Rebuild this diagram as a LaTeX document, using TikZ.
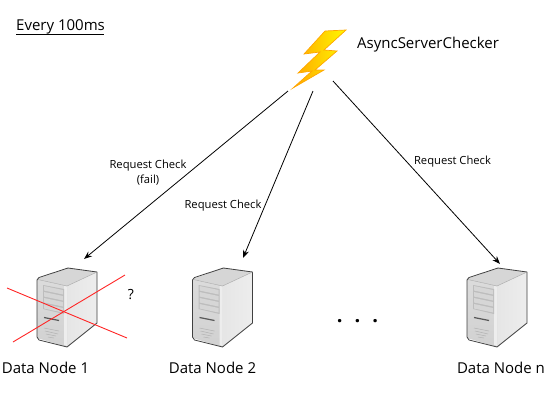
\documentclass[tikz,border=0pt]{standalone}
\usepackage{fontspec}
\usetikzlibrary{arrows.meta}
\setmainfont{Open Sans}
\tikzset{
  x=1pt,y=-1pt,
  conn/.style={draw=black,line width=0.8pt,-{Stealth[length=8pt,width=6pt]}},
  lab/.style={font=\fontsize{11.2}{15}\selectfont,align=center,inner sep=0pt,text=black},
  big/.style={font=\fontsize{15}{17}\selectfont,inner sep=0pt,text=black},
  cross/.style={draw=red!85!white,line width=0.9pt},
  pics/server/.style={code={
    % side
    \path[left color=white!90!black,right color=white!93!black]
      (30,19) -- (60,5) -- (60,56) -- (30,80) -- cycle;
    % top
    \path[fill=white!84!black] (0,12) -- (31,1) -- (60,5) -- (30,19) -- cycle;
    % front
    \path[top color=white!86!black,bottom color=white!82!black] (0,12) -- (30,19) -- (30,80) -- (0,71) -- cycle;
    \path[fill=white!93!black] (27,19) -- (30,19.5) -- (30,79) -- (27,78) -- cycle;
    % panel
    \path[fill=white!74!black] (6,18) -- (27,22) -- (27,47) -- (6,42) -- cycle;
    \foreach \d in {0,6,12,18}
      \path[fill=white!84!black] (7,{19+\d}) -- (26,{23+\d}) -- (26,{27.5+\d}) -- (7,{23.5+\d}) -- cycle;
    \draw[line width=1.2pt,black!65] (7,50.5) -- (22,53.5);
    \draw[line width=0.5pt,black!30] (7,61) -- (22,64) (8,64) -- (21,67) (9,67) -- (19,69) (11,70) -- (17,71);
    \draw[line width=0.8pt,black!75,line join=round]
      (30,80) -- (2,73) -- (0,70) -- (0,13) -- (2,10.5) -- (31,1) -- (60,5) -- (60,56) -- (30,80);
    \draw[line width=0.4pt,white!65!black] (1,12.5) -- (30,19) -- (60,5);
  }}
}
\begin{document}
\begin{tikzpicture}
\useasboundingbox (0,0) rectangle (550,400);
% bolt
\path[left color=orange!70!yellow,right color=yellow!95!orange,draw=orange!70!yellow,line width=0.7pt,line join=miter]
  (346,30) -- (325,31) -- (304,54) -- (320,52) -- (298,73) -- (312,71) -- (293,88)
  -- (324,70) -- (315,70) -- (337,51) -- (324,50) -- cycle;
\node[anchor=west,big] (asc) at (357,44.5) {AsyncServerChecker};
\node[anchor=west,big] (every) at (16,26.5) {Every 100ms};
\draw[line width=0.8pt,black] (16,34) -- (104,34);
% anchors
\coordinate (b1) at (288,91);
\coordinate (b2) at (313,91);
\coordinate (b3) at (333,81);
\coordinate (t1) at (84,259);
\coordinate (t2) at (243,258);
\coordinate (t3) at (500,264);
% servers
\pic at (37,267) {server};
\pic at (192.5,267) {server};
\pic at (467,267) {server};
% connectors
\draw[conn] (b1) -- (t1);
\draw[conn] (b2) -- (t2);
\draw[conn] (b3) -- (t3);
% cross
\coordinate (c1) at (7,288);
\coordinate (c2) at (127,338);
\coordinate (c3) at (13,342);
\coordinate (c4) at (125,275);
\draw[cross] (c1) -- (c2);
\draw[cross] (c3) -- (c4);
% labels
\node[lab] (l1) at (148,173) {Request Check\\(fail)};
\node[lab] (l2) at (223,205.5) {Request Check};
\node[lab] (l3) at (452.5,161.5) {Request Check};
\node[font=\fontsize{14}{15}\selectfont,inner sep=0pt] (q) at (131,295) {?};
\node[big] (d1) at (45.5,368) {Data Node 1};
\node[big] (d2) at (212.5,368) {Data Node 2};
\node[big] (dn) at (501,368) {Data Node n};
\node[font=\fontsize{20}{20}\selectfont\bfseries,inner sep=0pt] (dots) at (357.5,321) {.\hspace{12pt}.\hspace{12pt}.};
\end{tikzpicture}
\end{document}
